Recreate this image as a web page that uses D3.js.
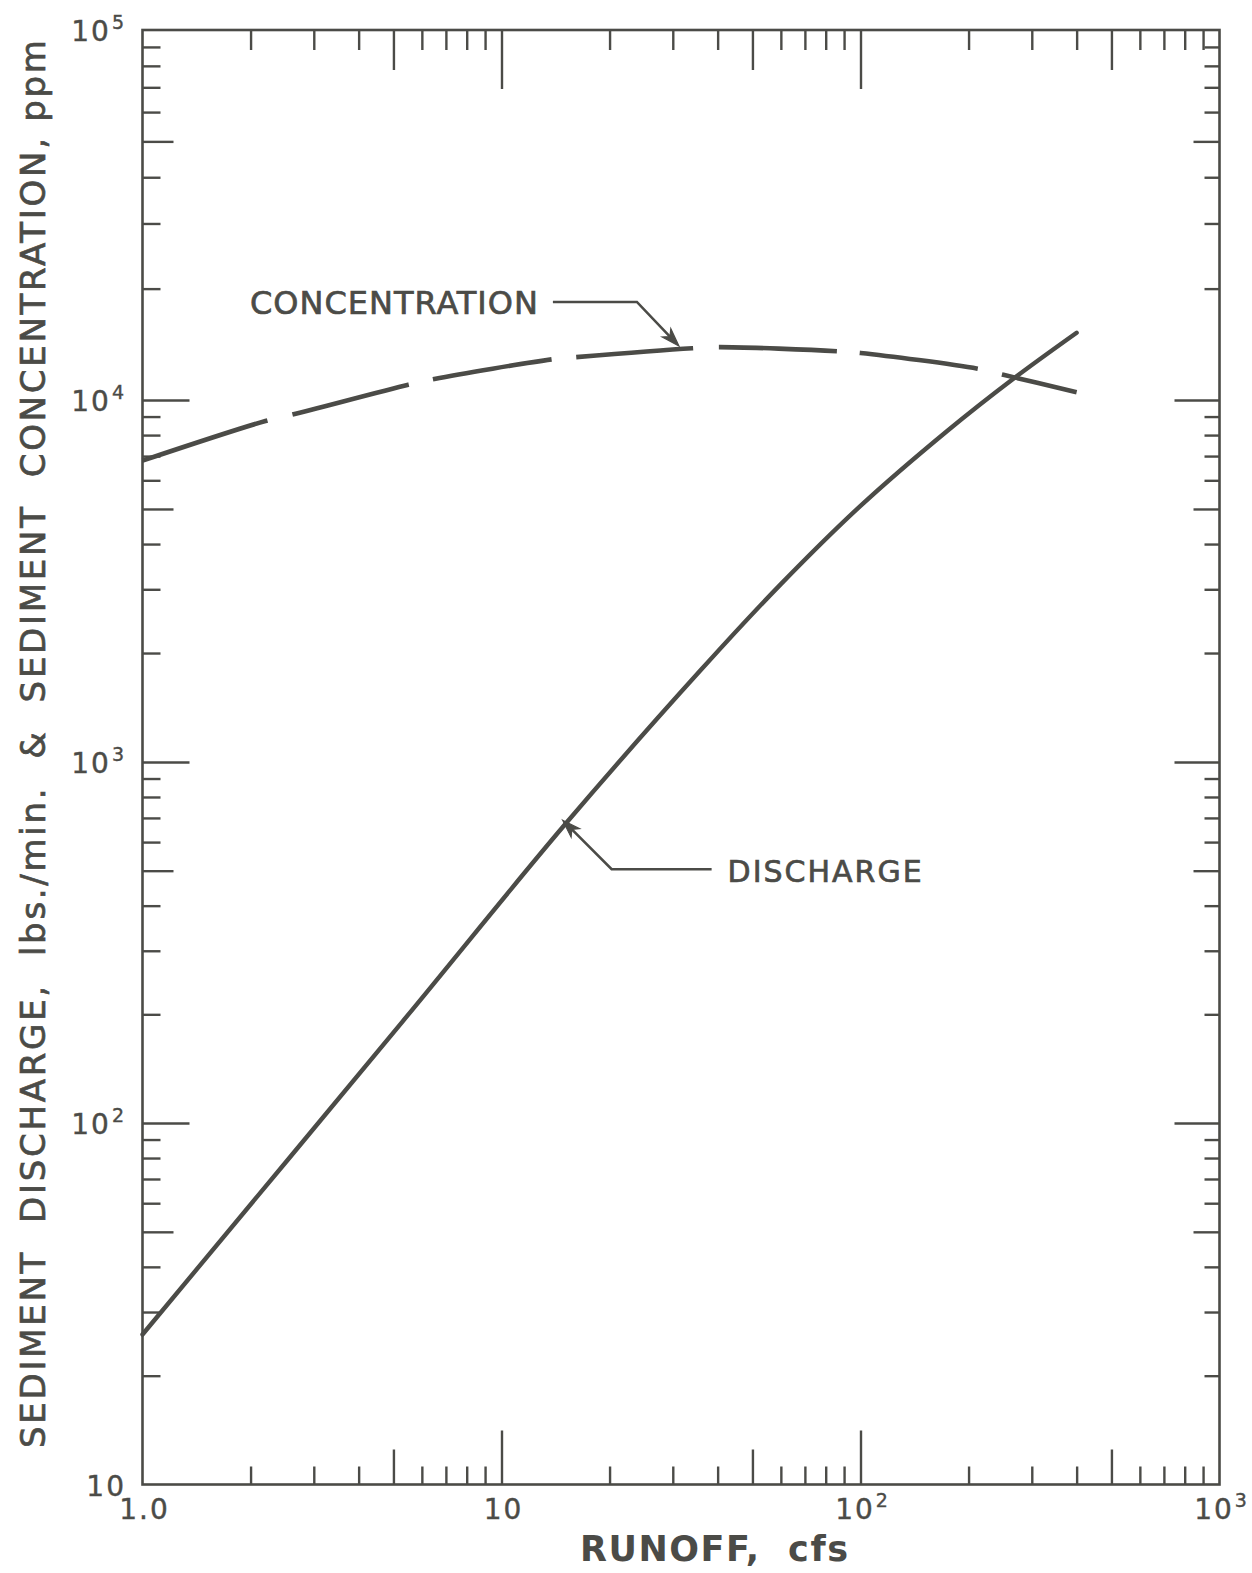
<!DOCTYPE html>
<html>
<head>
<meta charset="utf-8">
<script src="https://cdn.jsdelivr.net/npm/d3@7"></script>
<style>
  html, body { margin: 0; padding: 0; background: #ffffff; }
  svg { display: block; }
</style>
</head>
<body>
<div id="chart"></div>
<script>
// ---------------- DATA ----------------
// Sediment concentration (ppm) vs runoff (cfs) — dashed curve
const concRunoff = [1, 2.2, 2.6, 5.5, 6.5, 14, 16, 34, 40, 86, 100, 212, 250, 400];
const concValues = [6800, 8750, 9100, 11000, 11400, 12900, 13050, 13800, 13900, 13550, 13400, 12150, 11700, 10500];

// Sediment discharge (lbs./min.) vs runoff (cfs) — solid curve
const dischRunoff = [1, 5.3, 15, 36, 60, 100, 174, 266, 400];
const dischValues = [26, 191, 670, 1800, 3100, 5100, 8200, 11400, 15200];

// Axis ticks
const xMajorTicks = [10, 100];
const xMidTicks = [5, 50, 500];
const xMinorTicks = [2, 3, 4, 6, 7, 8, 9, 20, 30, 40, 60, 70, 80, 90, 200, 300, 400, 600, 700, 800, 900];
const yMajorTicks = [100, 1000, 10000];
const yMidTicks = [50, 500, 5000, 50000];
const yMinorTicks = [20, 30, 40, 60, 70, 80, 90, 200, 300, 400, 600, 700, 800, 900,
                     2000, 3000, 4000, 6000, 7000, 8000, 9000, 20000, 30000, 40000, 60000, 70000, 80000, 90000];

// Tick labels
const xTickValues = [1, 10, 100, 1000];
const xTickBase = ["1.0", "10", "10", "10"];
const xTickSup = ["", "", "2", "3"];
const yTickValues = [10, 100, 1000, 10000, 100000];
const yTickBase = ["10", "10", "10", "10", "10"];
const yTickSup = ["", "2", "3", "4", "5"];

// Texts
const xTitle = "RUNOFF,  cfs";
const yTitle = "SEDIMENT  DISCHARGE,  lbs./min.  &  SEDIMENT  CONCENTRATION, ppm";
const concLabel = "CONCENTRATION";
const dischLabel = "DISCHARGE";
// annotation arrow targets (data space)
const concArrowTarget = [31.2, 14000];
const dischArrowTarget = [14.8, 690];

// ---------------- LAYOUT ----------------
const W = 1252, H = 1573;
const L = 142.5, R = 1219.5, T = 30, B = 1484.5;
const ink = "#4b4b47";
const font = "'DejaVu Sans', 'Liberation Sans', sans-serif";

const svg = d3.select("#chart").append("svg")
  .attr("width", W).attr("height", H)
  .attr("viewBox", `0 0 ${W} ${H}`);

svg.append("rect").attr("width", W).attr("height", H).attr("fill", "#ffffff");

const x = d3.scaleLog().domain([1, 1000]).range([L, R]);
const y = d3.scaleLog()
  .domain([10, 100, 1000, 10000, 100000])
  .range([B, 1123, 762, 400, T]);

// ---------------- AXES (ticks) ----------------
function styleAxis(g) {
  g.select(".domain").remove();
  g.selectAll(".tick line").attr("stroke", ink).attr("stroke-width", 2.4);
  g.selectAll(".tick text").remove();
}
function addAxis(axis, transform) {
  svg.append("g").attr("transform", transform).call(axis).call(styleAxis);
}
// bottom (inward = upwards)
addAxis(d3.axisBottom(x).tickValues(xMajorTicks).tickSize(-54).tickFormat(""), `translate(0,${B})`);
addAxis(d3.axisBottom(x).tickValues(xMidTicks).tickSize(-35).tickFormat(""), `translate(0,${B})`);
addAxis(d3.axisBottom(x).tickValues(xMinorTicks).tickSize(-18).tickFormat(""), `translate(0,${B})`);
// top (inward = downwards)
addAxis(d3.axisTop(x).tickValues(xMajorTicks).tickSize(-59).tickFormat(""), `translate(0,${T})`);
addAxis(d3.axisTop(x).tickValues(xMidTicks).tickSize(-40).tickFormat(""), `translate(0,${T})`);
addAxis(d3.axisTop(x).tickValues(xMinorTicks).tickSize(-20).tickFormat(""), `translate(0,${T})`);
// left (inward = right)
addAxis(d3.axisLeft(y).tickValues(yMajorTicks).tickSize(-47).tickFormat(""), `translate(${L},0)`);
addAxis(d3.axisLeft(y).tickValues(yMidTicks).tickSize(-31).tickFormat(""), `translate(${L},0)`);
addAxis(d3.axisLeft(y).tickValues(yMinorTicks).tickSize(-18).tickFormat(""), `translate(${L},0)`);
// right (inward = left)
addAxis(d3.axisRight(y).tickValues(yMajorTicks).tickSize(-45).tickFormat(""), `translate(${R},0)`);
addAxis(d3.axisRight(y).tickValues(yMidTicks).tickSize(-26).tickFormat(""), `translate(${R},0)`);
addAxis(d3.axisRight(y).tickValues(yMinorTicks).tickSize(-15).tickFormat(""), `translate(${R},0)`);

// frame
svg.append("rect")
  .attr("x", L).attr("y", T).attr("width", R - L).attr("height", B - T)
  .attr("fill", "none").attr("stroke", ink).attr("stroke-width", 2.6);

// ---------------- TICK LABELS ----------------
yTickValues.forEach((v, i) => {
  const t = svg.append("text")
    .attr("x", 126).attr("y", y(v) + 11)
    .attr("text-anchor", "end")
    .attr("font-family", font).attr("fill", ink)
    .attr("stroke", ink).attr("stroke-width", 0.4)
    .attr("font-size", 28).attr("letter-spacing", 2);
  t.append("tspan").text(yTickBase[i]);
  if (yTickSup[i]) {
    t.append("tspan").attr("dy", -12).attr("dx", 1).attr("font-size", 19).text(yTickSup[i]);
  }
});
xTickValues.forEach((v, i) => {
  const t = svg.append("text")
    .attr("x", x(v) + 2).attr("y", 1519)
    .attr("text-anchor", "middle")
    .attr("font-family", font).attr("fill", ink)
    .attr("stroke", ink).attr("stroke-width", 0.4)
    .attr("font-size", 28).attr("letter-spacing", 2);
  t.append("tspan").text(xTickBase[i]);
  if (xTickSup[i]) {
    t.append("tspan").attr("dy", -12).attr("dx", 1).attr("font-size", 19).text(xTickSup[i]);
  }
});

// ---------------- AXIS TITLES ----------------
svg.append("text")
  .attr("x", 580).attr("y", 1561)
  .attr("font-family", font).attr("font-weight", "bold")
  .attr("font-size", 35).attr("fill", ink)
  .attr("textLength", 268).attr("lengthAdjust", "spacing")
  .style("white-space", "pre")
  .text(xTitle);

svg.append("text")
  .attr("transform", "translate(45,744) rotate(-90)")
  .attr("text-anchor", "middle")
  .attr("font-family", font)
  .attr("font-size", 34).attr("fill", ink)
  .attr("stroke", ink).attr("stroke-width", 0.7)
  .attr("textLength", 1408).attr("lengthAdjust", "spacing")
  .style("white-space", "pre")
  .text(yTitle);

// ---------------- CURVES ----------------
const plot = svg.append("g");

const lineGen = d3.line()
  .x(d => x(d[0]))
  .y(d => y(d[1]))
  .curve(d3.curveCatmullRom.alpha(0.5));

const concData = concRunoff.map((r, i) => [r, concValues[i]]);
const dischData = dischRunoff.map((r, i) => [r, dischValues[i]]);

plot.append("path")
  .attr("d", lineGen(concData))
  .attr("fill", "none")
  .attr("stroke", ink)
  .attr("stroke-width", 4.6)
  .attr("stroke-dasharray", "131 26 120 25 120 25 117 26 118 23 119 25 200")
  .attr("stroke-linecap", "butt");

plot.append("path")
  .attr("d", lineGen(dischData))
  .attr("fill", "none")
  .attr("stroke", ink)
  .attr("stroke-width", 4.4)
  .attr("stroke-linecap", "round")
  .attr("stroke-linejoin", "round");

// ---------------- ANNOTATIONS ----------------
function arrowHead(tip, from) {
  const dx = tip[0] - from[0], dy = tip[1] - from[1];
  const len = Math.hypot(dx, dy);
  const ux = dx / len, uy = dy / len;
  const px = -uy, py = ux;
  const Lh = 18, Wh = 6, N = 13;
  const p1 = [tip[0] - ux * Lh + px * Wh, tip[1] - uy * Lh + py * Wh];
  const p2 = [tip[0] - ux * N, tip[1] - uy * N];
  const p3 = [tip[0] - ux * Lh - px * Wh, tip[1] - uy * Lh - py * Wh];
  svg.append("path")
    .attr("d", `M${tip[0]},${tip[1]}L${p1[0]},${p1[1]}L${p2[0]},${p2[1]}L${p3[0]},${p3[1]}Z`)
    .attr("fill", ink).attr("stroke", ink).attr("stroke-width", 1.2).attr("stroke-linejoin", "miter");
}

// concentration leader
{
  const tip = [x(concArrowTarget[0]), y(concArrowTarget[1])];
  const elbow = [tip[0] - 42, tip[1] - 44];
  const start = [elbow[0] - 84, elbow[1]];
  svg.append("path")
    .attr("d", d3.line()([start, elbow, [tip[0] - 4, tip[1] - 4]]))
    .attr("fill", "none").attr("stroke", ink).attr("stroke-width", 2.6);
  arrowHead(tip, elbow);
  svg.append("text")
    .attr("x", start[0] - 15 - 288).attr("y", elbow[1] + 12)
    .attr("font-family", font).attr("font-size", 32).attr("fill", ink)
    .attr("stroke", ink).attr("stroke-width", 0.7)
    .attr("textLength", 288).attr("lengthAdjust", "spacing")
    .text(concLabel);
}

// discharge leader
{
  const tip = [x(dischArrowTarget[0]), y(dischArrowTarget[1])];
  const elbow = [tip[0] + 49, tip[1] + 49];
  const end = [elbow[0] + 100, elbow[1]];
  svg.append("path")
    .attr("d", d3.line()([[tip[0] + 4, tip[1] + 4], elbow, end]))
    .attr("fill", "none").attr("stroke", ink).attr("stroke-width", 2.6);
  arrowHead(tip, elbow);
  svg.append("text")
    .attr("x", end[0] + 16).attr("y", elbow[1] + 13)
    .attr("font-family", font).attr("font-size", 30).attr("fill", ink)
    .attr("stroke", ink).attr("stroke-width", 0.7)
    .attr("textLength", 194).attr("lengthAdjust", "spacing")
    .text(dischLabel);
}
</script>
</body>
</html>
